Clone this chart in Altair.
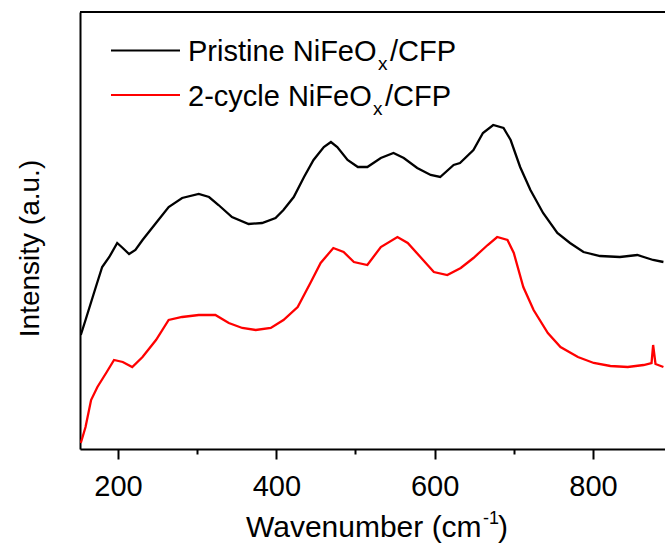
import altair as alt
import pandas as pd

# Raman spectra (arbitrary intensity units)
wn_pristine = [153, 159, 172, 180, 189, 199, 206, 214, 222, 231, 248, 264, 281, 302, 315, 327,
               344, 365, 382, 399, 409, 422, 435, 447, 460, 469, 477, 490, 503, 515, 532, 548,
               561, 578, 595, 607, 624, 632, 649, 661, 674, 687, 696, 708, 721, 737, 755, 771,
               788, 809, 834, 856, 876, 889]
int_pristine = [114, 129, 162, 182, 192, 206, 201, 195, 199, 209, 226, 242, 251, 255, 252, 244,
                232, 225, 226, 231, 239, 252, 272, 289, 302, 307, 302, 289, 282, 282, 291, 296,
                291, 281, 274, 272, 284, 286, 299, 316, 324, 321, 309, 282, 259, 236, 216, 206,
                197, 193, 192, 194, 189, 187]

wn_cycle = [153, 159, 166, 174, 185, 195, 206, 218, 231, 248, 264, 281, 302, 323, 340, 357,
            374, 393, 409, 427, 443, 456, 472, 485, 498, 515, 532, 553, 566, 582, 599, 616,
            633, 649, 667, 679, 692, 700, 712, 725, 743, 759, 781, 801, 822, 844, 864, 874,
            876, 879, 889]
int_cycle = [6, 22, 49, 62, 76, 89, 87, 82, 92, 109, 129, 132, 134, 134, 126, 121,
             119, 121, 129, 142, 166, 186, 201, 197, 187, 184, 202, 212, 206, 192, 177, 174,
             181, 191, 204, 212, 209, 196, 162, 139, 116, 102, 92, 86, 83, 82, 84, 86,
             104, 85, 82]

series_names = ["Pristine", "2-cycle"]
series_colors = ["#000000", "#ff0000"]
x_ticks = [200, 300, 400, 500, 600, 700, 800]

df = pd.concat([
    pd.DataFrame({"wn": wn_pristine, "I": int_pristine, "s": series_names[0]}),
    pd.DataFrame({"wn": wn_cycle, "I": int_cycle, "s": series_names[1]}),
])

FONT = "Liberation Sans"
W, H = 585, 437

lines = alt.Chart(df).mark_line(strokeWidth=2.3, clip=True).encode(
    x=alt.X("wn:Q",
            scale=alt.Scale(domain=[152, 891], nice=False, zero=False),
            axis=alt.Axis(values=x_ticks, title=None, grid=False,
                          labelExpr="datum.value % 200 == 0 ? datum.label : ''",
                          labelOverlap=False, labelFlush=False,
                          tickSize={"condition": {"test": "datum.value % 200 == 0", "value": 10}, "value": 5},
                          tickWidth=2, tickColor="black", domainWidth=2, domainColor="black",
                          labelFont=FONT, labelFontSize=29, labelColor="black",
                          labelBaseline="alphabetic", labelPadding=36)),
    y=alt.Y("I:Q",
            scale=alt.Scale(domain=[0, 437], nice=False),
            axis=alt.Axis(title="Intensity (a.u.)", ticks=False, labels=False, grid=False,
                          domainWidth=2, domainColor="black",
                          titleFont=FONT, titleFontSize=28, titleFontWeight="normal",
                          titleColor="black", titleAngle=270, titleX=-42, titleY=236,
                          titleBaseline="alphabetic", titleAlign="center")),
    color=alt.Color("s:N", scale=alt.Scale(domain=series_names, range=series_colors), legend=None),
    detail="s:N",
)

top_border = alt.Chart().mark_rule(color="black", strokeWidth=2).encode(
    x=alt.value(0), x2=alt.value(W), y=alt.value(0))

leg_lines = [
    alt.Chart().mark_rule(color=c, strokeWidth=2).encode(x=alt.value(31), x2=alt.value(100), y=alt.value(yy))
    for c, yy in [("#000000", 38.5), ("#ff0000", 83)]
]


def txt(text, x, y, size=29, align="left"):
    return alt.Chart().mark_text(text=text, font=FONT, fontSize=size, color="black",
                                 align=align, baseline="alphabetic").encode(
        x=alt.value(x), y=alt.value(y))


texts = [
    txt("Pristine NiFeO", 108, 49), txt("x", 298, 58, 19), txt("/CFP", 310, 49),
    txt("2-cycle NiFeO", 108, 94), txt("x", 293, 103, 19), txt("/CFP", 305, 94),
    txt("Wavenumber (cm", 166, 525, 30), txt("-1", 403, 512, 18), txt(")", 418, 525, 30),
]

chart = alt.layer(lines, top_border, *leg_lines, *texts).properties(
    width=W, height=H,
    autosize=alt.AutoSizeParams(type="none"),
    padding={"left": 80, "top": 12, "right": 0, "bottom": 101},
).configure_view(stroke=None).configure(background="white")

chart.save("out.html", embed_options={"renderer": "svg", "actions": False})
